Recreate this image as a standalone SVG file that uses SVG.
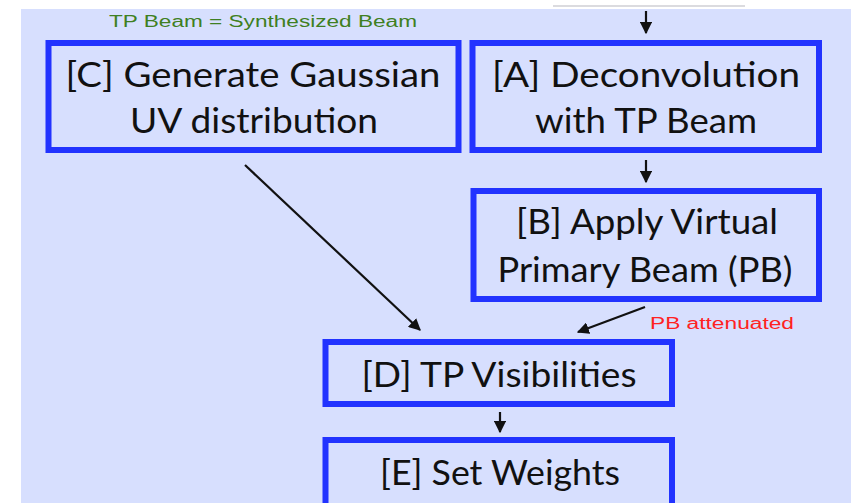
<svg xmlns="http://www.w3.org/2000/svg" width="852" height="503" viewBox="0 0 852 503">
<defs>
<style>
.box{fill:none;stroke:#2233ff;stroke-width:6}
.t{font-family:"Lato","Liberation Sans",sans-serif;font-size:34px;fill:#111;text-anchor:middle}
.c{stroke:#111;stroke-width:2.2;fill:none;marker-end:url(#ah)}
</style>
<marker id="ah" viewBox="0 0 10 10" refX="9" refY="5" markerWidth="5.5" markerHeight="5.5" orient="auto" markerUnits="strokeWidth">
<path d="M0,0 L10,5 L0,10 z" fill="#111"/>
</marker>
</defs>
<rect x="0" y="0" width="852" height="503" fill="#ffffff"/>
<rect x="21" y="9" width="830" height="494" fill="#d7dffe"/>
<line x1="553" y1="6" x2="745" y2="6" stroke="#b8b8c0" stroke-width="1.2"/>
<text x="263" y="27" font-family="'Liberation Sans Narrow','Liberation Sans',sans-serif" font-size="16" fill="#3f7f22" text-anchor="middle" textLength="308" lengthAdjust="spacingAndGlyphs">TP Beam = Synthesized Beam</text>
<g id="C">
<rect class="box" x="48.5" y="43" width="410" height="107"/>
<text class="t" x="253" y="87" textLength="375" lengthAdjust="spacingAndGlyphs">[C] Generate Gaussian</text>
<text class="t" x="254" y="133" textLength="248" lengthAdjust="spacingAndGlyphs">UV distribution</text>
</g>
<g id="A">
<rect class="box" x="472.5" y="43" width="346.5" height="107"/>
<text class="t" x="646" y="87" textLength="308" lengthAdjust="spacingAndGlyphs">[A] Deconvolution</text>
<text class="t" x="646" y="133" textLength="222" lengthAdjust="spacingAndGlyphs">with TP Beam</text>
</g>
<g id="B">
<rect class="box" x="473.5" y="191" width="345.5" height="108"/>
<text class="t" x="647" y="234" textLength="262" lengthAdjust="spacingAndGlyphs">[B] Apply Virtual</text>
<text class="t" x="645" y="282" textLength="295" lengthAdjust="spacingAndGlyphs">Primary Beam (PB)</text>
</g>
<g id="D">
<rect class="box" x="325.5" y="342" width="346.5" height="62"/>
<text class="t" x="499" y="387" textLength="275" lengthAdjust="spacingAndGlyphs">[D] TP Visibilities</text>
</g>
<g id="E">
<rect class="box" x="325.5" y="440" width="346.5" height="70"/>
<text class="t" x="500" y="485" textLength="240" lengthAdjust="spacingAndGlyphs">[E] Set Weights</text>
</g>
<text x="722" y="329" font-family="'Liberation Sans Narrow','Liberation Sans',sans-serif" font-size="16" fill="#ff2222" text-anchor="middle" textLength="144" lengthAdjust="spacingAndGlyphs">PB attenuated</text>
<g id="connectors">
<line class="c" x1="646" y1="11" x2="646" y2="33"/>
<line class="c" x1="646" y1="160" x2="646" y2="182"/>
<line class="c" x1="245" y1="165" x2="420" y2="330"/>
<line class="c" x1="645" y1="307" x2="578" y2="332"/>
<line class="c" x1="500" y1="412" x2="500" y2="432"/>
</g>
</svg>
